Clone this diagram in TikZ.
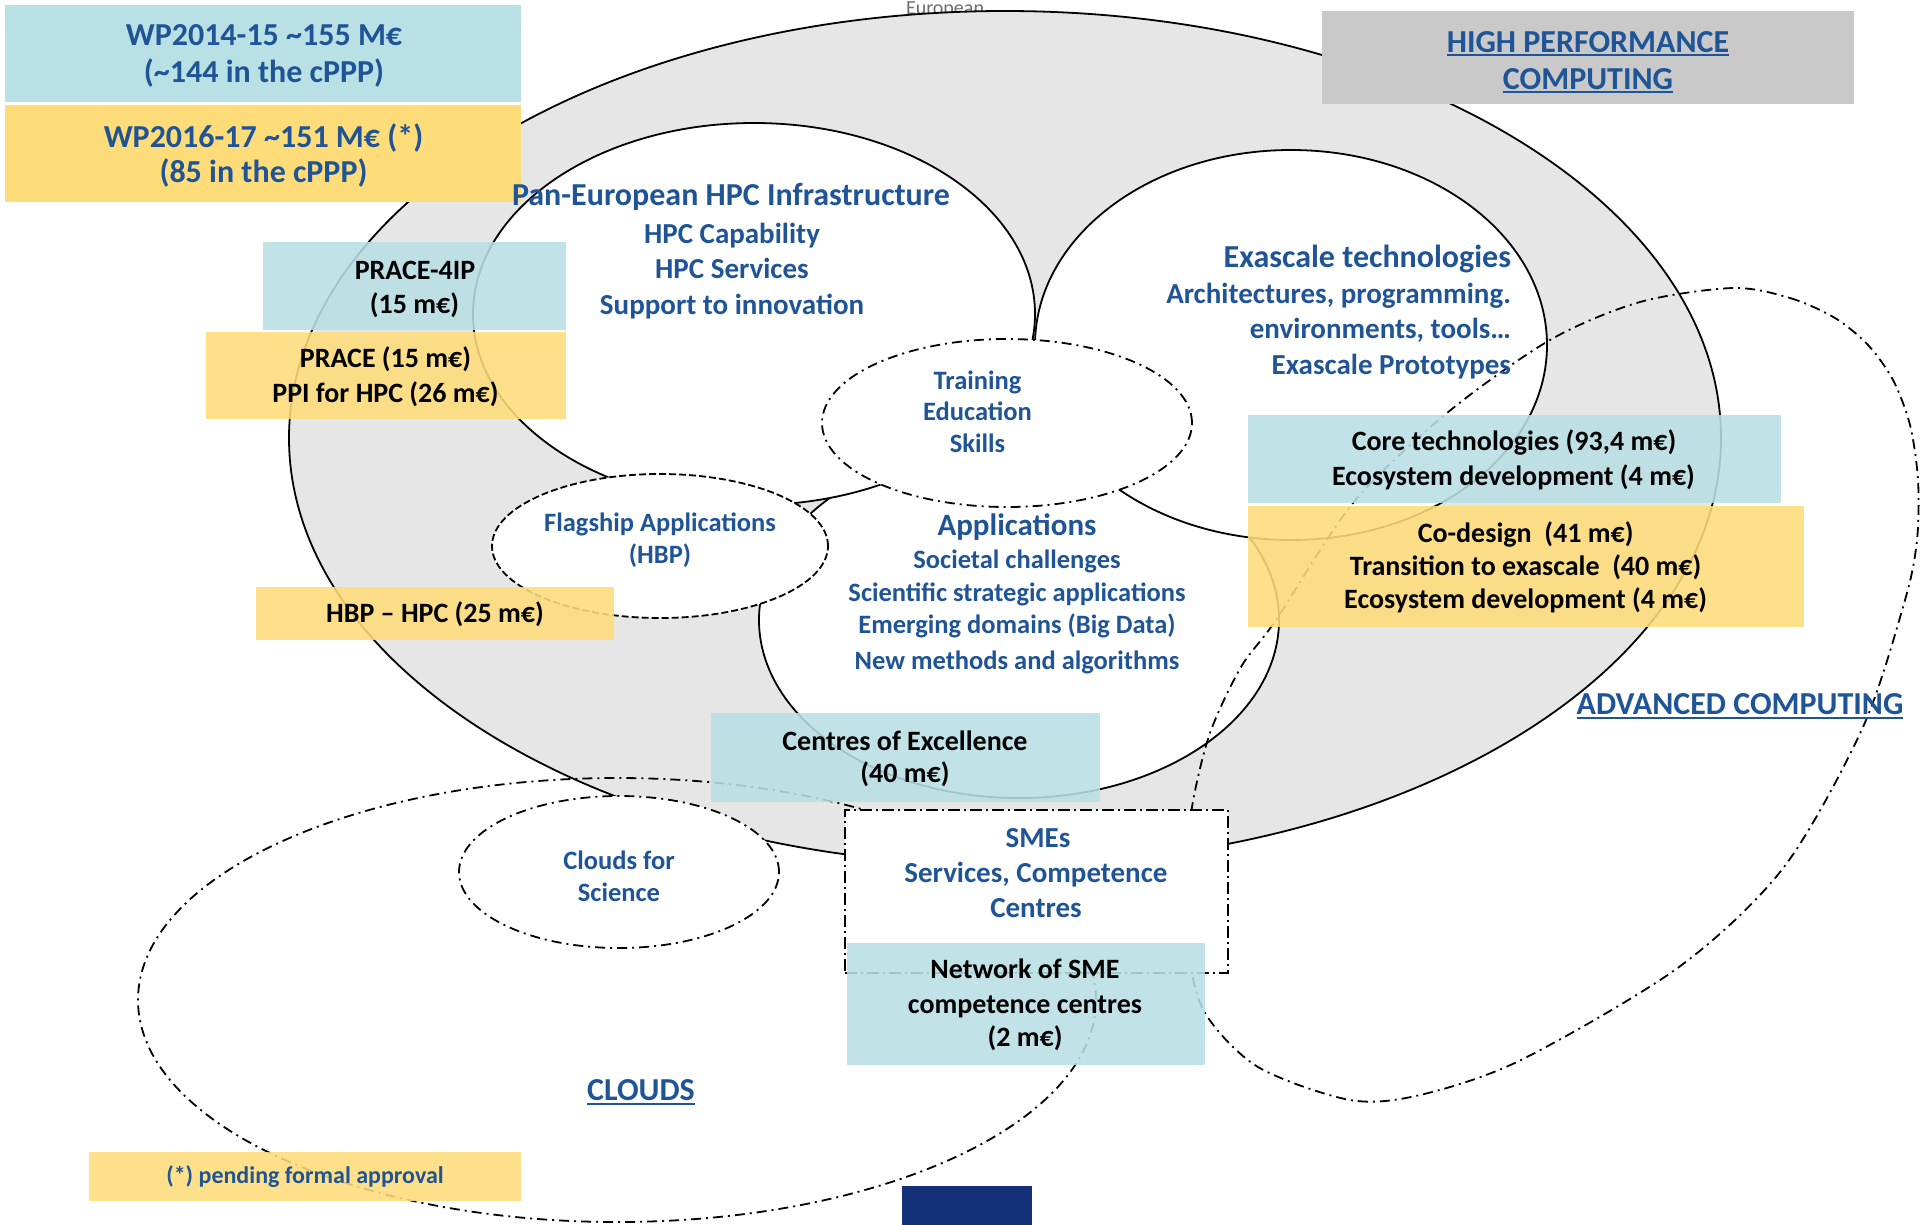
\documentclass[tikz,border=0pt]{standalone}
\usepackage{fontspec}
\setmainfont{Carlito}
\usetikzlibrary{calc}
\definecolor{tblue}{RGB}{31,84,150}
\definecolor{cyanbox}{RGB}{185,224,228}
\definecolor{yelbox}{RGB}{255,220,122}
\definecolor{greybox}{RGB}{201,201,201}
\definecolor{outerfill}{RGB}{230,230,230}
\definecolor{navybar}{RGB}{20,48,120}
\definecolor{eurgrey}{RGB}{110,110,110}
\begin{document}
\begin{tikzpicture}[x=1pt,y=-1pt,
  every node/.style={inner sep=0pt,outer sep=0pt},
  panel/.style={rectangle,draw=none,inner sep=0pt},
  hdr/.style={anchor=base,text=tblue,font=\fontsize{32}{38}\selectfont\bfseries},
  sub/.style={anchor=base,text=tblue,font=\fontsize{29}{35}\selectfont\bfseries},
  sml/.style={anchor=base,text=tblue,font=\fontsize{26.5}{32}\selectfont\bfseries},
  blk/.style={anchor=base,text=black,font=\fontsize{28}{34}\selectfont\bfseries},
  wpt/.style={anchor=base,text=tblue,font=\fontsize{32}{38}\selectfont\bfseries},
  dd/.style={line width=1.8pt,dash pattern=on 10pt off 5pt on 2pt off 5pt},
  ulin/.style={tblue,line width=2.4pt},
  semi/.style={fill opacity=0.88}
]
\useasboundingbox (0,0) rectangle (1922,1224);
\fill[white] (0,0) rectangle (1922,1224);

\node[anchor=base,text=eurgrey,font=\fontsize{20}{24}\selectfont] (eur) at (945,14) {European};

% outer HPC region
\filldraw[fill=outerfill,draw=black,line width=1.8pt] (1005,438) ellipse [x radius=716pt,y radius=427pt];

% white regions
\filldraw[fill=white,draw=black,line width=1.8pt] (1019,620) ellipse [x radius=260pt,y radius=178pt];
\filldraw[fill=white,draw=black,line width=1.8pt] (754,314) ellipse [x radius=281pt,y radius=191pt];
\filldraw[fill=white,draw=black,line width=1.8pt] (1291,345) ellipse [x radius=256pt,y radius=195pt];

% training
\filldraw[fill=white,draw=black,dd] (1007,423) ellipse [x radius=185pt,y radius=84pt];
% flagship
\filldraw[fill=white,draw=black,line width=1.8pt,dash pattern=on 7pt off 3pt] (660,546) ellipse [x radius=168pt,y radius=72pt];
% clouds for science
\filldraw[fill=white,draw=black,dd] (619,872) ellipse [x radius=160pt,y radius=76pt];
% CLOUDS
\draw[dd] (617,1000) ellipse [x radius=479pt,y radius=222pt];
% ADVANCED COMPUTING
\draw[dd] plot[smooth cycle] coordinates {(1733,288) (1790,298) (1835,318) (1868,345) (1893,380) (1910,425) (1918,480) (1917,540) (1905,600) (1863,727) (1784,867) (1679,967) (1521,1060) (1420,1095) (1350,1100) (1258,1067) (1205,1013) (1188,950) (1186,880) (1192,807) (1210,733) (1241,667) (1276,620) (1353,503) (1447,413) (1550,340) (1640,302)};

% SME box
\node[panel,fill=white,draw=black,line width=1.8pt,dash pattern=on 12pt off 4pt on 2pt off 4pt,minimum width=383pt,minimum height=163pt] (smebox) at (1036.5,891.5) {};

% coloured boxes
\node[panel,fill=cyanbox,minimum width=516pt,minimum height=97pt] (wp14box) at (263,53.5) {};
\node[panel,fill=yelbox,minimum width=516pt,minimum height=97pt] (wp16box) at (263,153.5) {};
\node[panel,fill=greybox,minimum width=532pt,minimum height=93pt] (hpcbox) at (1588,57.5) {};
\node[panel,fill=cyanbox,semi,minimum width=303pt,minimum height=88pt] (prace4box) at (414.5,286) {};
\node[panel,fill=yelbox,semi,minimum width=360pt,minimum height=87pt] (pracebox) at (386,375.5) {};
\node[panel,fill=yelbox,semi,minimum width=358pt,minimum height=53pt] (hbpbox) at (435,613.5) {};
\node[panel,fill=cyanbox,semi,minimum width=533pt,minimum height=88pt] (corebox) at (1514.5,459) {};
\node[panel,fill=yelbox,semi,minimum width=556pt,minimum height=121pt] (codebox) at (1526,566.5) {};
\node[panel,fill=cyanbox,semi,minimum width=389pt,minimum height=89pt] (coebox) at (905.5,757.5) {};
\node[panel,fill=cyanbox,semi,minimum width=358pt,minimum height=122pt] (netbox) at (1026,1004) {};
\node[panel,fill=yelbox,semi,minimum width=432pt,minimum height=49pt] (pendbox) at (305,1176.5) {};
\fill[navybar] (902,1186) rectangle (1032,1226);

% texts: top boxes
\node[wpt] (wp14a) at (264,45) {WP2014-15 \textasciitilde155 M€};
\node[wpt] (wp14b) at (264,82) {(\textasciitilde144 in the cPPP)};
\node[wpt] (wp16a) at (263.5,147) {WP2016-17 \textasciitilde151 M€ (*)};
\node[wpt] (wp16b) at (263.5,182) {(85 in the cPPP)};
\node[hdr] (hpca) at (1588,52) {HIGH PERFORMANCE};
\node[hdr] (hpcb) at (1588,89) {COMPUTING};
\draw[ulin] ($(hpca.base west)+(0,3)$) -- ($(hpca.base east)+(0,3)$);
\draw[ulin] ($(hpcb.base west)+(0,3)$) -- ($(hpcb.base east)+(0,3)$);

% Pan-European
\node[hdr] (pan1) at (731,205) {Pan-European HPC Infrastructure};
\node[sub] (pan2) at (732,243) {HPC Capability};
\node[sub] (pan3) at (732,278) {HPC Services};
\node[sub] (pan4) at (732,314) {Support to innovation};

% Exascale
\node[hdr,anchor=base east] (exa1) at (1511,267) {Exascale technologies};
\node[sub,anchor=base east] (exa2) at (1511,303) {Architectures, programming.};
\node[sub,anchor=base east] (exa3) at (1511,338) {environments, tools…};
\node[sub,anchor=base east] (exa4) at (1511,374) {Exascale Prototypes};

% Training
\node[sml] (tr1) at (977.5,389) {Training};
\node[sml] (tr2) at (977.5,420) {Education};
\node[sml] (tr3) at (977.5,452) {Skills};

% Applications
\node[hdr,font=\fontsize{31}{37}\selectfont\bfseries] (ap1) at (1017,535) {Applications};
\node[sml] (ap2) at (1017,568) {Societal challenges};
\node[sml] (ap3) at (1017,601) {Scientific strategic applications};
\node[sml] (ap4) at (1017,633) {Emerging domains (Big Data)};
\node[sml] (ap5) at (1017,669) {New methods and algorithms};

% Flagship
\node[sml] (fl1) at (660,531) {Flagship Applications};
\node[sml] (fl2) at (660,563) {(HBP)};

% Clouds for science
\node[sml] (cs1) at (619,869) {Clouds for};
\node[sml] (cs2) at (619,901) {Science};

% SMEs
\node[sub] (sm1) at (1038,847) {SMEs};
\node[sub] (sm2) at (1036,882) {Services, Competence};
\node[sub] (sm3) at (1036,917) {Centres};

% black box texts
\node[blk] (p4a) at (415,279) {PRACE-4IP};
\node[blk] (p4b) at (414.5,313) {(15 m€)};
\node[blk] (pra) at (385.5,367) {PRACE (15 m€)};
\node[blk] (prb) at (385.5,402) {PPI for HPC (26 m€)};
\node[blk] (hbp) at (435,622) {HBP – HPC (25 m€)};
\node[blk] (co1) at (1514,450) {Core technologies (93,4 m€)};
\node[blk] (co2) at (1513.5,485) {Ecosystem development (4 m€)};
\node[blk] (cd1) at (1525.6,542) {Co-design~~(41 m€)};
\node[blk] (cd2) at (1525.6,575) {Transition to exascale~~(40 m€)};
\node[blk] (cd3) at (1525.6,608) {Ecosystem development (4 m€)};
\node[blk] (ce1) at (905,750) {Centres of Excellence};
\node[blk] (ce2) at (905,782) {(40 m€)};
\node[blk] (nw1) at (1025,978) {Network of SME};
\node[blk] (nw2) at (1025,1013) {competence centres};
\node[blk] (nw3) at (1025,1046) {(2 m€)};

% section headers
\node[hdr] (adv) at (1740,714) {ADVANCED COMPUTING};
\draw[ulin] ($(adv.base west)+(0,4)$) -- ($(adv.base east)+(0,4)$);
\node[hdr] (clo) at (641,1100) {CLOUDS};
\draw[ulin] ($(clo.base west)+(0,4)$) -- ($(clo.base east)+(0,4)$);

\node[anchor=base,text=tblue,font=\fontsize{24}{29}\selectfont\bfseries] (pend) at (305,1183) {(*) pending formal approval};
\end{tikzpicture}
\end{document}
